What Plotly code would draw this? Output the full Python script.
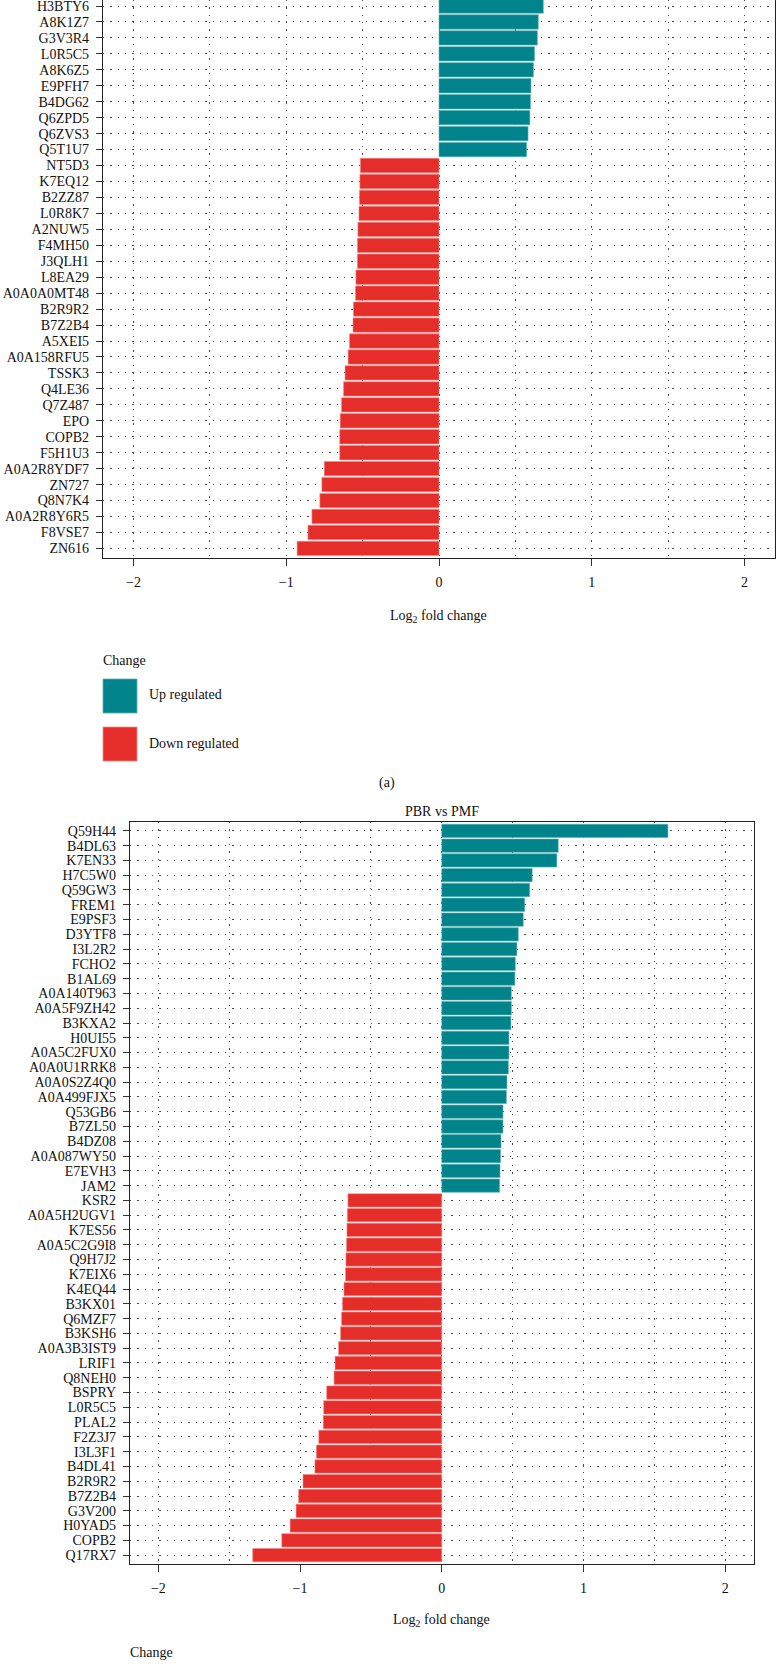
import plotly.graph_objects as go

# ---------------- data ----------------
a_up_labels = ["H3BTY6", "A8K1Z7", "G3V3R4", "L0R5C5", "A8K6Z5", "E9PFH7",
               "B4DG62", "Q6ZPD5", "Q6ZVS3", "Q5T1U7"]
a_up_values = [0.683, 0.650, 0.644, 0.625, 0.618, 0.602, 0.599, 0.595, 0.583, 0.573]

a_down_labels = ["NT5D3", "K7EQ12", "B2ZZ87", "L0R8K7", "A2NUW5", "F4MH50", "J3QLH1",
                 "L8EA29", "A0A0A0MT48", "B2R9R2", "B7Z2B4", "A5XEI5", "A0A158RFU5",
                 "TSSK3", "Q4LE36", "Q7Z487", "EPO", "COPB2", "F5H1U3", "A0A2R8YDF7",
                 "ZN727", "Q8N7K4", "A0A2R8Y6R5", "F8VSE7", "ZN616"]
a_down_values = [-0.515, -0.518, -0.521, -0.524, -0.531, -0.534, -0.534, -0.544, -0.547,
                 -0.560, -0.563, -0.586, -0.595, -0.615, -0.625, -0.638, -0.647, -0.650,
                 -0.650, -0.751, -0.767, -0.780, -0.832, -0.858, -0.929]

b_up_labels = ["Q59H44", "B4DL63", "K7EN33", "H7C5W0", "Q59GW3", "FREM1", "E9PSF3",
               "D3YTF8", "I3L2R2", "FCHO2", "B1AL69", "A0A140T963", "A0A5F9ZH42",
               "B3KXA2", "H0UI55", "A0A5C2FUX0", "A0A0U1RRK8", "A0A0S2Z4Q0",
               "A0A499FJX5", "Q53GB6", "B7ZL50", "B4DZ08", "A0A087WY50", "E7EVH3", "JAM2"]
b_up_values = [1.596, 0.822, 0.812, 0.638, 0.620, 0.585, 0.575, 0.540, 0.530, 0.519,
               0.516, 0.491, 0.491, 0.488, 0.474, 0.474, 0.470, 0.460, 0.456, 0.432,
               0.432, 0.418, 0.415, 0.411, 0.408]

b_down_labels = ["KSR2", "A0A5H2UGV1", "K7ES56", "A0A5C2G9I8", "Q9H7J2", "K7EIX6",
                 "K4EQ44", "B3KX01", "Q6MZF7", "B3KSH6", "A0A3B3IST9", "LRIF1", "Q8NEH0",
                 "BSPRY", "L0R5C5", "PLAL2", "F2Z3J7", "I3L3F1", "B4DL41", "B2R9R2",
                 "B7Z2B4", "G3V200", "H0YAD5", "COPB2", "Q17RX7"]
b_down_values = [-0.662, -0.666, -0.669, -0.672, -0.676, -0.679, -0.690, -0.700, -0.707,
                 -0.714, -0.728, -0.753, -0.760, -0.812, -0.833, -0.836, -0.868, -0.885,
                 -0.895, -0.979, -1.010, -1.028, -1.070, -1.129, -1.334]

x_tick_values = [-2, -1, 0, 1, 2]
legend_title = "Change"
legend_labels = ["Up regulated", "Down regulated"]
panel_b_title = "PBR vs PMF"
panel_a_caption = "(a)"
x_title = "Log<sub>2</sub> fold change"

# ---------------- style ----------------
W, H = 776, 1664
UP_COLOR = "#00838A"
DOWN_COLOR = "#E52E2A"
UP_EDGE = "#5FB0B3"
DOWN_EDGE = "#F28A87"
FONT = "Liberation Serif"
TXT = "#111111"
GRID = "#4a4a4a"
DOT = "1.3px,6px"
FS = 14


def px_x(v):
    return v / W


def px_y(v):
    return 1 - v / H


fig = go.Figure()

# panel geometry in pixels (left, right, top, bottom)
PA = dict(l=103, r=775, t=0, b=558)
PB = dict(l=130, r=753.5, t=822, b=1564)

for lab, val, col, edge, xa, ya in [
    (a_up_labels, a_up_values, UP_COLOR, UP_EDGE, "x", "y"),
    (a_down_labels, a_down_values, DOWN_COLOR, DOWN_EDGE, "x", "y"),
    (b_up_labels, b_up_values, UP_COLOR, UP_EDGE, "x2", "y2"),
    (b_down_labels, b_down_values, DOWN_COLOR, DOWN_EDGE, "x2", "y2"),
]:
    fig.add_trace(go.Bar(
        x=val, y=lab, orientation="h", xaxis=xa, yaxis=ya,
        marker=dict(color=col, line=dict(color=edge, width=0.6)),
        width=0.9, showlegend=False, hoverinfo="x+y"))

a_cats = a_up_labels + a_down_labels
b_cats = b_up_labels + b_down_labels

xcommon = dict(
    range=[-2.2, 2.2], tickmode="array", tickvals=x_tick_values, ticks="outside",
    ticklen=7, tickcolor="#333", tickwidth=1, showline=True, linecolor="#222",
    linewidth=1.2, mirror=True, showgrid=True, gridcolor=GRID, gridwidth=1,
    griddash=DOT, zeroline=False, tickfont=dict(family=FONT, size=FS, color=TXT),
    ticklabelstandoff=4,
    minor=dict(tick0=-1.5, dtick=1, showgrid=True, gridcolor=GRID, gridwidth=1,
               griddash=DOT, ticks=""),
)
ycommon = dict(
    type="category", ticks="outside", ticklen=6, tickcolor="#333", tickwidth=1,
    showline=True, linecolor="#222", linewidth=1.2, mirror=True, showgrid=True,
    gridcolor=GRID, gridwidth=1, griddash=DOT, zeroline=False,
    tickfont=dict(family=FONT, size=FS, color=TXT), ticklabelstandoff=4,
    categoryorder="array", tickmode="array",
)

n_a = len(a_cats)
n_b = len(b_cats)

fig.update_layout(
    width=W, height=H, margin=dict(l=0, r=0, t=0, b=0),
    paper_bgcolor="white", plot_bgcolor="white", bargap=0.1,
    font=dict(family=FONT, color=TXT),
    xaxis=dict(domain=[px_x(PA["l"]), px_x(PA["r"])], anchor="y", **xcommon),
    yaxis=dict(domain=[px_y(PA["b"]), px_y(PA["t"])], anchor="x",
               categoryarray=a_cats, tickvals=a_cats, ticktext=a_cats,
               range=[n_a - 1 + 0.6, -0.376], **ycommon),
    xaxis2=dict(domain=[px_x(PB["l"]), px_x(PB["r"])], anchor="y2", **xcommon),
    yaxis2=dict(domain=[px_y(PB["b"]), px_y(PB["t"])], anchor="x2",
                categoryarray=b_cats, tickvals=b_cats, ticktext=b_cats,
                range=[n_b - 1 + 0.6, -0.6], **ycommon),
)

ann = []


def add_text(text, x, y, xanchor="center", size=FS):
    ann.append(dict(text=text, x=px_x(x), y=px_y(y), xref="paper", yref="paper",
                    xanchor=xanchor, yanchor="middle", showarrow=False,
                    font=dict(family=FONT, size=size, color=TXT)))


# axis titles
add_text(x_title, (PA["l"] + PA["r"]) / 2 - 1, 616)
add_text(x_title, (PB["l"] + PB["r"]) / 2, 1620)
# panel caption / title
add_text(panel_a_caption, 387, 783)
add_text(panel_b_title, 442, 812)
# legend (panel a)
add_text(legend_title, 101, 660, xanchor="left")
colors = [UP_COLOR, DOWN_COLOR]
edges = [UP_EDGE, DOWN_EDGE]
key_top = [679, 727]
shapes = []
for i, lab in enumerate(legend_labels):
    shapes.append(dict(type="rect", xref="paper", yref="paper",
                       x0=px_x(103), x1=px_x(137), y0=px_y(key_top[i] + 34),
                       y1=px_y(key_top[i]), fillcolor=colors[i],
                       line=dict(color=edges[i], width=0.8)))
    add_text(lab, 147, key_top[i] + 16, xanchor="left")
# legend title (panel b, partly cut off at the bottom edge)
add_text(legend_title, 128, 1652, xanchor="left")

fig.update_layout(annotations=ann, shapes=shapes)

fig.write_html(
    "out.html",
    config={"displayModeBar": False},
    post_script="document.body.style.margin='0';document.body.style.overflow='hidden';",
)
